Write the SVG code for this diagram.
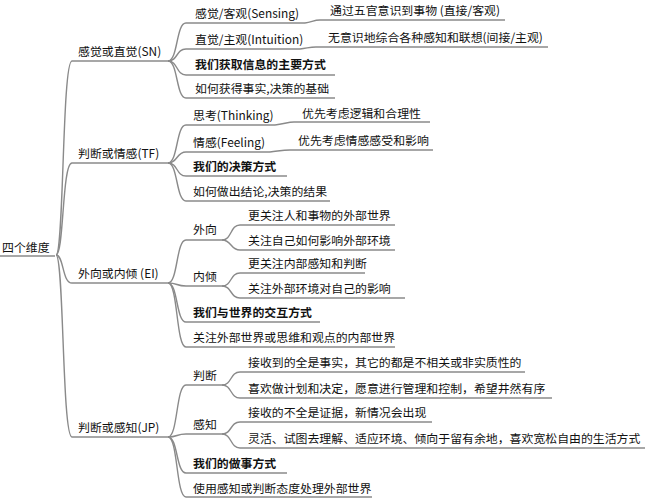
<svg xmlns="http://www.w3.org/2000/svg" width="646" height="500" viewBox="0 0 646 500">
<style>
text{font-family:"Noto Sans CJK SC","Liberation Sans",sans-serif;font-size:11.9px;fill:#111}
.b{font-weight:bold}
#links path{fill:none;stroke:#8a8a8a;stroke-width:1.4}
</style>
<rect width="646" height="500" fill="#fff"/>
<g id="links">
<path d="M0 256 H55"/>
<path d="M56 255 C64 255 62 61 72 61 H168"/>
<path d="M56 255 C64 255 62 163 72 163 H168"/>
<path d="M56 255 C64 255 62 283 72 283 H168"/>
<path d="M56 255 C64 255 62 437 72 437 H168"/>
<path d="M168 61 C178 61 176 23 186 23 H305"/>
<path d="M168 61 C178 61 176 49 186 49 H300"/>
<path d="M168 61 C178 61 176 75 186 75 H335"/>
<path d="M168 61 C178 61 176 98 186 98 H335"/>
<path d="M305 23 C312 22 314 20 320 20 H505"/>
<path d="M300 49 C308 48 310 47 316 47 H548"/>
<path d="M168 163 C178 163 176 125 186 125 H275"/>
<path d="M168 163 C178 163 176 152 186 152 H270"/>
<path d="M168 163 C178 163 176 176 186 176 H287"/>
<path d="M168 163 C178 163 176 201 186 201 H330"/>
<path d="M275 125 C284 124 288 122 294 122 H430"/>
<path d="M270 152 C279 151 283 150 290 150 H433"/>
<path d="M168 283 C178 283 176 240 186 240 H222"/>
<path d="M168 283 C178 283 176 286 186 286 H222"/>
<path d="M168 283 C178 283 176 322 186 322 H320"/>
<path d="M168 283 C178 283 176 347 186 347 H395"/>
<path d="M222 240 C232 240 230 225 240 225 H395"/>
<path d="M222 240 C232 240 230 250 240 250 H395"/>
<path d="M222 286 C232 286 230 273 240 273 H365"/>
<path d="M222 286 C232 286 230 298 240 298 H405"/>
<path d="M168 437 C178 437 176 385 186 385 H222"/>
<path d="M168 437 C178 437 176 434 186 434 H222"/>
<path d="M168 437 C178 437 176 473 186 473 H287"/>
<path d="M168 437 C178 437 176 497 186 497 H372"/>
<path d="M222 385 C232 385 230 372 240 372 H525"/>
<path d="M222 385 C232 385 230 398 240 398 H552"/>
<path d="M222 434 C232 434 230 422 240 422 H432"/>
<path d="M222 434 C232 434 230 448 240 448 H645"/>
</g>
<g id="root"><text x="2" y="252">四个维度</text></g>
<g id="sn"><text x="78" y="56">感觉或直觉(SN)</text>
<text x="195" y="18">感觉/客观(Sensing)</text>
<text x="330" y="15">通过五官意识到事物 (直接/客观)</text>
<text x="195" y="44">直觉/主观(Intuition)</text>
<text x="328" y="42">无意识地综合各种感知和联想(间接/主观)</text>
<text x="195" y="69" class="b">我们获取信息的主要方式</text>
<text x="195" y="93">如何获得事实,决策的基础</text></g>
<g id="tf"><text x="78" y="158">判断或情感(TF)</text>
<text x="193" y="120">思考(Thinking)</text>
<text x="302" y="118">优先考虑逻辑和合理性</text>
<text x="193" y="147">情感(Feeling)</text>
<text x="298" y="145">优先考虑情感感受和影响</text>
<text x="193" y="171" class="b">我们的决策方式</text>
<text x="193" y="196">如何做出结论,决策的结果</text></g>
<g id="ei"><text x="78" y="278">外向或内倾 (EI)</text>
<text x="193" y="234">外向</text>
<text x="248" y="220">更关注人和事物的外部世界</text>
<text x="248" y="245">关注自己如何影响外部环境</text>
<text x="193" y="281">内倾</text>
<text x="248" y="268">更关注内部感知和判断</text>
<text x="248" y="293">关注外部环境对自己的影响</text>
<text x="193" y="317" class="b">我们与世界的交互方式</text>
<text x="193" y="342">关注外部世界或思维和观点的内部世界</text></g>
<g id="jp"><text x="78" y="432">判断或感知(JP)</text>
<text x="193" y="380">判断</text>
<text x="248" y="367">接收到的全是事实，其它的都是不相关或非实质性的</text>
<text x="248" y="393">喜欢做计划和决定，愿意进行管理和控制，希望井然有序</text>
<text x="193" y="429">感知</text>
<text x="248" y="417">接收的不全是证据，新情况会出现</text>
<text x="248" y="443">灵活、试图去理解、适应环境、倾向于留有余地，喜欢宽松自由的生活方式</text>
<text x="193" y="468" class="b">我们的做事方式</text>
<text x="193" y="493">使用感知或判断态度处理外部世界</text></g>
</svg>
